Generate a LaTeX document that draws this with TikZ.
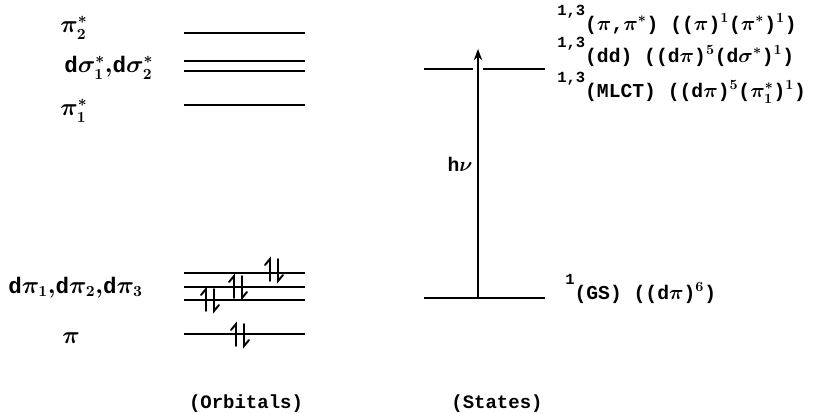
\documentclass[tikz,border=0pt]{standalone}
\usepackage{fontspec}
\setmonofont{Liberation Mono}
\usetikzlibrary{arrows.meta}
\tikzset{
  level/.style={line width=1.4pt},
  lbl/.style={font=\fontsize{16}{18}\selectfont\ttfamily\bfseries\boldmath, inner sep=0pt, anchor=base west},
  st/.style={font=\fontsize{14}{16}\selectfont\ttfamily\bfseries\boldmath, inner sep=0pt, anchor=base west},
  ctext/.style={font=\fontsize{13.5}{16}\selectfont\ttfamily\bfseries, inner sep=0pt},
  epair/.pic={
    \draw[line width=1.4pt, line cap=round] (-4,11) -- (-4,-11) -- (-9,-5);
    \draw[line width=1.4pt, line cap=round] (4,-11) -- (4,11) -- (9,5);
  }
}
\newcommand{\hi}[1]{\raisebox{10pt}{\fontsize{11}{11}\selectfont #1}}
\begin{document}
\begin{tikzpicture}[x=0.025cm, y=-0.025cm]
\useasboundingbox (0,0) rectangle (817,414);
% orbital levels
\foreach \nm/\yy in {pa/33, sa/61, sb/71, pb/105, da/273, db/287, dc/300, pp/334} {
  \coordinate (\nm l) at (184,\yy);
  \coordinate (\nm r) at (305,\yy);
  \draw[level] (\nm l) -- (\nm r);
}
% electron pairs
\pic at (274,270) {epair};
\pic at (238,287) {epair};
\pic at (210,300) {epair};
\pic at (240,335) {epair};
% orbital labels
\node[lbl] (la) at (60,32) {$\pi^*_2$};
\node[lbl] (lb) at (64,72) {d$\sigma^*_1$$,$d$\sigma^*_2$};
\node[lbl] (lc) at (60,115) {$\pi^*_1$};
\node[lbl] (ld) at (8,293) {d$\pi_1$$,$d$\pi_2$$,$d$\pi_3$};
\node[lbl] (le) at (62,343) {$\pi$};
% states
\coordinate (gsl) at (424,298);
\coordinate (gsr) at (545,298);
\coordinate (exl) at (424,69);
\coordinate (exm) at (473,69);
\coordinate (exn) at (483,69);
\coordinate (exr) at (545,69);
\coordinate (gs) at (478,298);
\coordinate (ex) at (478,49);
\draw[level] (gsl) -- (gsr);
\draw[level] (exl) -- (exm);
\draw[level] (exn) -- (exr);
\draw[line width=1.2pt, -{Stealth[length=8pt,width=6pt]}] (gs) -- (ex);
\node[st, anchor=center] (hv) at (460,164) {h$\nu$};
\node[st] (sa) at (557,30) {\hi{1,3}($\pi$,$\pi^*$) (($\pi$)$^1$($\pi^*$)$^1$)};
\node[st] (sb) at (557,62) {\hi{1,3}(dd) ((d$\pi$)$^5$(d$\sigma^*$)$^1$)};
\node[st] (sc) at (557,97) {\hi{1,3}(MLCT) ((d$\pi$)$^5$($\pi^*_1$)$^1$)};
\node[st] (sd) at (565,299) {\hi{1}(GS) ((d$\pi$)$^6$)};
% captions
\node[ctext] (co) at (246,404) {(Orbitals)};
\node[ctext] (cs) at (497,404) {(States)};
\end{tikzpicture}
\end{document}
